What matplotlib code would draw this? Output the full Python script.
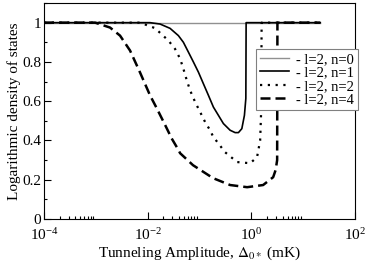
import matplotlib
matplotlib.use("Agg")
import matplotlib.pyplot as plt
from matplotlib.ticker import FixedLocator, MultipleLocator, NullFormatter

plt.rcParams['font.family'] = ['Liberation Serif', 'DejaVu Serif']
plt.rcParams['mathtext.fontset'] = 'stix'
plt.rcParams['font.size'] = 11

# tunneling amplitude (mK) and logarithmic density of states
x_n0 = [1e-4, 21.4]
y_n0 = [1.0, 1.0]

x_n1 = [1e-4, 0.0111, 0.01734, 0.02704, 0.03917, 0.04889, 0.0611, 0.0762, 0.0953,
        0.1189, 0.1486, 0.1855, 0.2317, 0.2891, 0.39, 0.487, 0.564, 0.656, 0.736,
        0.784, 0.794, 21.4]
y_n1 = [1.0, 1.0, 0.993, 0.971, 0.934, 0.90, 0.85, 0.80, 0.748,
        0.689, 0.63, 0.57, 0.528, 0.486, 0.452, 0.44, 0.44, 0.46, 0.528,
        0.614, 1.0, 1.0]

x_n2 = [1e-4, 7.13e-3, 0.0139, 0.0187, 0.0251, 0.0338, 0.0423, 0.0489, 0.0569,
        0.0659, 0.0823, 0.1028, 0.1283, 0.160, 0.183, 0.312, 0.532, 0.95, 1.29,
        1.48, 1.55, 1.58, 21.4]
y_n2 = [1.0, 1.0, 0.972, 0.94, 0.909, 0.866, 0.816, 0.765, 0.706,
        0.655, 0.596, 0.545, 0.494, 0.452, 0.42, 0.34, 0.29, 0.284, 0.315,
        0.40, 0.553, 1.0, 1.0]

x_n4 = [1e-4, 5e-4, 9.7e-4, 1.88e-3, 2.93e-3, 4.57e-3, 7.13e-3, 0.0111, 0.0149,
        0.0216, 0.0291, 0.0386, 0.0423, 0.075, 0.183, 0.39, 0.83, 1.69, 2.64, 2.95,
        3.15, 3.19, 21.4]
y_n4 = [1.0, 1.0, 1.0, 0.975, 0.934, 0.858, 0.746, 0.63, 0.565,
        0.48, 0.41, 0.355, 0.335, 0.274, 0.208, 0.173, 0.162, 0.173, 0.213, 0.25,
        0.30, 1.0, 1.0]

labels = ["- l=2, n=0", "- l=2, n=1", "- l=2, n=2", "- l=2, n=4"]

fig = plt.figure(figsize=(3.68, 2.65), dpi=100)
ax = fig.add_axes([0.1196, 0.1736, 0.845, 0.815])

ax.plot(x_n0, y_n0, color='#909090', lw=1.0, label=labels[0])
ax.plot(x_n1, y_n1, color='black', lw=1.2, label=labels[1])
ax.plot(x_n2, y_n2, color='black', lw=1.6, linestyle=(0, (1, 2.5)), label=labels[2])
ax.plot(x_n4, y_n4, color='black', lw=1.8, linestyle=(0, (4, 2)), label=labels[3])

ax.set_xscale('log')
ax.set_xlim(1e-4, 1e2)
ax.set_ylim(0, 1.1)

ax.xaxis.set_major_locator(FixedLocator([1e-4, 1e-2, 1e0, 1e2]))
minors = [m * 10.0 ** e for e in (-4, -2, 0) for m in range(2, 10)]
ax.xaxis.set_minor_locator(FixedLocator(minors))
ax.xaxis.set_minor_formatter(NullFormatter())
ax.yaxis.set_major_locator(FixedLocator([0, 0.2, 0.4, 0.6, 0.8, 1.0]))
ax.yaxis.set_major_formatter(plt.FuncFormatter(lambda v, p: "%g" % v))
ax.yaxis.set_minor_locator(MultipleLocator(0.1))

ax.tick_params(which='both', direction='in', top=False, right=False)
ax.tick_params(which='major', length=5, width=0.8)
ax.tick_params(axis='x', which='major', pad=6)
ax.tick_params(axis='y', which='major', pad=2)
ax.tick_params(which='minor', length=2.5, width=0.8)
for s in ax.spines.values():
    s.set_linewidth(0.8)

ax.set_xlabel(r"Tunneling Amplitude, $\Delta_{0*}$ (mK)", labelpad=1)
ax.set_ylabel("Logarithmic density of states", labelpad=1)

leg = ax.legend(loc='upper right', bbox_to_anchor=(1.01, 0.787), fontsize=10.5,
                fancybox=False, edgecolor='#808080', framealpha=1,
                handlelength=2.0, labelspacing=0.02, borderpad=0.25,
                handletextpad=0.5, borderaxespad=0)
leg.get_frame().set_linewidth(0.8)
leg.set_zorder(5)

fig.savefig("out.png", dpi=100)
